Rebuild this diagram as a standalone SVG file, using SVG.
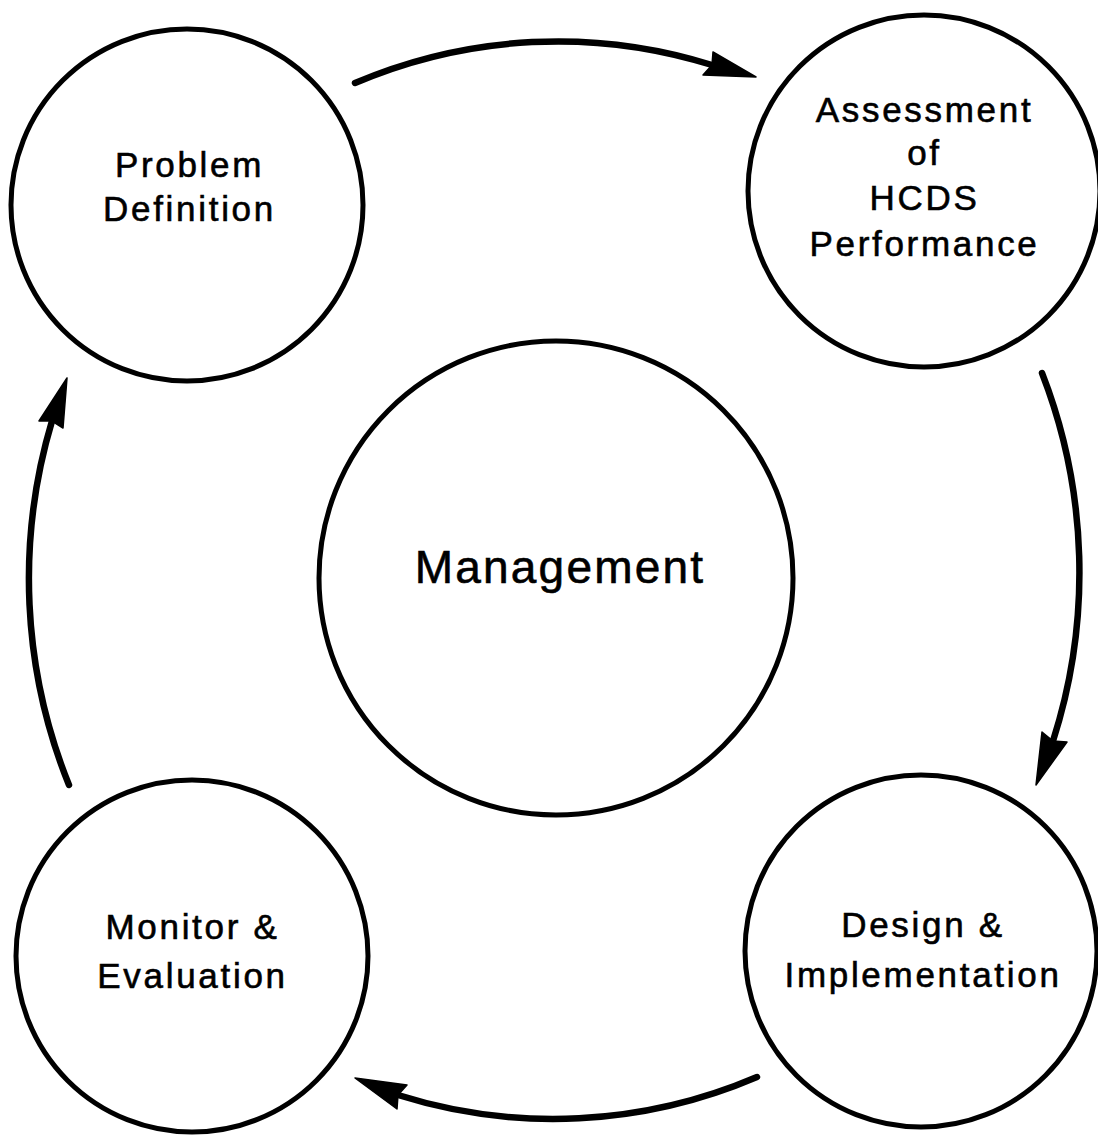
<svg xmlns="http://www.w3.org/2000/svg" width="1098" height="1136" viewBox="0 0 1098 1136">
<style>
.node circle{fill:none;stroke:#000;stroke-width:5}
.lbl{font-family:"Liberation Sans",Arial,sans-serif;font-size:35px;letter-spacing:2.7px;text-anchor:middle;fill:#000;stroke:#000;stroke-width:0.6}
.big{font-size:46px;letter-spacing:2.2px}
.conn path{fill:none;stroke:#000;stroke-width:6.5;stroke-linecap:round}
.conn polygon{fill:#000;stroke:#000;stroke-width:1.5;stroke-linejoin:round}
</style>
<rect width="1098" height="1136" fill="#fff"/>
<g id="problem-definition" class="node">
<circle cx="187" cy="205" r="176"/>
<text class="lbl" x="189.5" y="177">Problem</text>
<text class="lbl" x="189.5" y="221">Definition</text>
</g>
<g id="assessment" class="node">
<circle cx="924" cy="191" r="176"/>
<text class="lbl" x="924.5" y="122">Assessment</text>
<text class="lbl" x="924.5" y="165">of</text>
<text class="lbl" x="924.5" y="210">HCDS</text>
<text class="lbl" x="924.5" y="256">Performance</text>
</g>
<g id="management" class="node">
<circle cx="556" cy="578" r="237"/>
<text class="lbl big" x="560" y="583">Management</text>
</g>
<g id="design" class="node">
<circle cx="921" cy="951" r="176"/>
<text class="lbl" x="923" y="937">Design &amp;</text>
<text class="lbl" x="923" y="987">Implementation</text>
</g>
<g id="monitor" class="node">
<circle cx="192" cy="956" r="176"/>
<text class="lbl" x="192.5" y="939">Monitor &amp;</text>
<text class="lbl" x="192.5" y="988">Evaluation</text>
</g>
<g id="connectors" class="conn">
<path d="M355,83 A527,539 0 0 1 712,65"/>
<polygon points="756,77 713,52 712,65 703,75"/>
<path d="M1042,373 A527,539 0 0 1 1053,741"/>
<polygon points="1036,785 1042,732 1053,741 1067,742"/>
<path d="M757,1077 A527,539 0 0 1 398,1095"/>
<polygon points="355,1078 407,1085 398,1095 397,1109"/>
<path d="M69,785 A527,539 0 0 1 52,421"/>
<polygon points="67,378 63,428 52,421 39,421"/>
</g>
</svg>
